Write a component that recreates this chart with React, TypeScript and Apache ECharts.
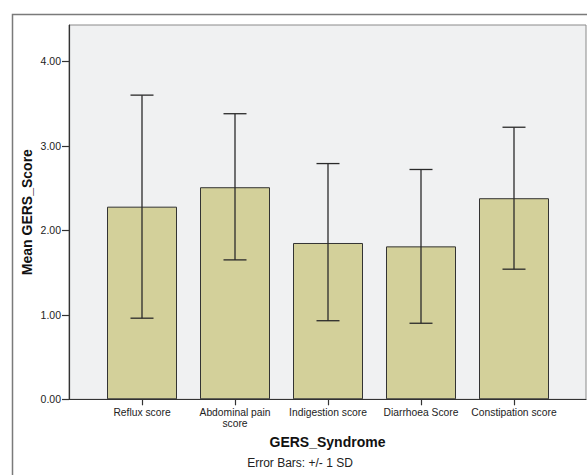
import React, { useEffect, useRef } from "react";
import * as echarts from "echarts";

const categories = [
  "Reflux score",
  "Abdominal pain\nscore",
  "Indigestion score",
  "Diarrhoea Score",
  "Constipation score",
];
const means = [2.28, 2.51, 1.85, 1.81, 2.38];
const lowerSD = [0.96, 1.65, 0.93, 0.9, 1.54];
const upperSD = [3.6, 3.38, 2.79, 2.72, 3.22];
const yTicks = [0, 1, 2, 3, 4];

const FONT = "'Liberation Sans', Arial, sans-serif";

export default function App() {
  const ref = useRef<HTMLDivElement>(null);
  useEffect(() => {
    if (!ref.current) return;
    const chart = echarts.init(ref.current, null, { renderer: "svg" });
    const yMax = 4.43;
    const option: any = {
      animation: false,
      backgroundColor: "#ffffff",
      textStyle: { fontFamily: FONT },
      graphic: [
        {
          type: "rect",
          shape: { x: 12.5, y: 14.5, width: 620, height: 500 },
          style: { fill: "none", stroke: "#7a7a7a", lineWidth: 1.5 },
          z: -10,
        },
        {
          type: "text",
          x: 300,
          y: 463,
          style: {
            text: "Error Bars: +/- 1 SD",
            align: "center",
            verticalAlign: "middle",
            fontSize: 12,
            fontFamily: FONT,
            fill: "#222",
          },
        },
      ],
      grid: [
        {
          left: 69,
          top: 25,
          width: 517,
          height: 374.3,
          show: true,
          backgroundColor: "#f0f1f2",
          borderColor: "#8a8a8a",
          borderWidth: 1,
        },
        {
          left: 95.5,
          top: 25,
          width: 465,
          height: 374.3,
        },
      ],
      xAxis: [
        {
          gridIndex: 0,
          type: "category",
          data: [""],
          axisLine: { show: true, lineStyle: { color: "#333", width: 1.2 } },
          axisTick: { show: false },
          axisLabel: { show: false },
          name: "GERS_Syndrome",
          nameLocation: "middle",
          nameGap: 36,
          nameMoveOverlap: false,
          nameTextStyle: {
            fontSize: 14,
            fontWeight: "bold",
            color: "#111",
            fontFamily: FONT,
          },
        },
        {
          gridIndex: 1,
          type: "category",
          data: categories,
          axisLine: { show: false },
          axisTick: {
            show: true,
            alignWithLabel: true,
            length: 6,
            lineStyle: { color: "#333", width: 1.2 },
          },
          axisLabel: {
            interval: 0,
            fontSize: 10.3,
            lineHeight: 11,
            color: "#222",
            margin: 8,
            fontFamily: FONT,
          },
        },
      ],
      yAxis: [
        {
          gridIndex: 0,
          type: "value",
          min: 0,
          max: yMax,
          interval: 1,
          splitLine: { show: false },
          axisLine: { show: true, lineStyle: { color: "#333", width: 1.2 } },
          axisTick: { show: true, length: 7, lineStyle: { color: "#333", width: 1.2 } },
          axisLabel: {
            fontSize: 10.5,
            color: "#222",
            margin: 8,
            fontFamily: FONT,
            showMaxLabel: false,
            formatter: (v: number) => (yTicks.includes(v) ? v.toFixed(2) : ""),
          },
          name: "Mean GERS_Score",
          nameLocation: "middle",
          nameGap: 35,
          nameMoveOverlap: false,
          nameTextStyle: {
            fontSize: 14,
            fontWeight: "bold",
            color: "#111",
            fontFamily: FONT,
          },
        },
        {
          gridIndex: 1,
          type: "value",
          min: 0,
          max: yMax,
          interval: 1,
          show: false,
          splitLine: { show: false },
        },
      ],
      series: [
        {
          type: "bar",
          xAxisIndex: 1,
          yAxisIndex: 1,
          data: means,
          barWidth: 70,
          itemStyle: {
            color: "#d3d09a",
            borderColor: "#333",
            borderWidth: 1,
          },
          z: 2,
        },
        {
          type: "custom",
          xAxisIndex: 1,
          yAxisIndex: 1,
          data: categories.map((_, i) => [i, lowerSD[i], upperSD[i]]),
          z: 5,
          renderItem: (params: any, api: any) => {
            const i = api.value(0);
            const lo = api.coord([i, api.value(1)]);
            const hi = api.coord([i, api.value(2)]);
            const hw = 11.5;
            const style = { stroke: "#2a2a2a", lineWidth: 1.3 };
            return {
              type: "group",
              children: [
                { type: "line", shape: { x1: lo[0], y1: lo[1], x2: hi[0], y2: hi[1] }, style },
                { type: "line", shape: { x1: hi[0] - hw, y1: hi[1], x2: hi[0] + hw, y2: hi[1] }, style },
                { type: "line", shape: { x1: lo[0] - hw, y1: lo[1], x2: lo[0] + hw, y2: lo[1] }, style },
              ],
            };
          },
        },
      ],
    };
    chart.setOption(option);
    return () => chart.dispose();
  }, []);
  return (
    <div
      ref={ref}
      style={{ position: "fixed", left: 0, top: 0, width: 587, height: 475 }}
    />
  );
}
